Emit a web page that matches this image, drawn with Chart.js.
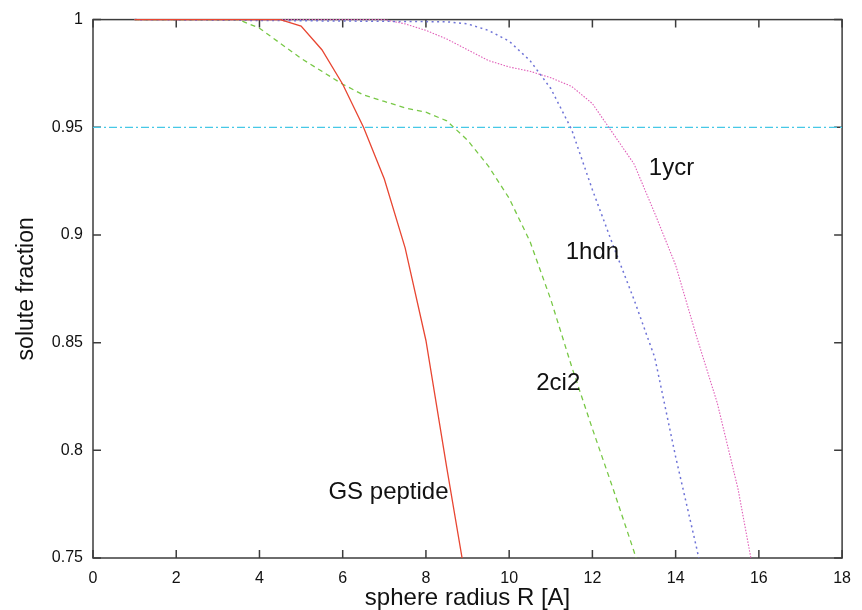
<!DOCTYPE html>
<html>
<head>
<meta charset="utf-8">
<script src="https://cdn.jsdelivr.net/npm/chart.js@4.4.0/dist/chart.umd.min.js"></script>
<style>
  html, body { margin: 0; padding: 0; background: #fff; }
  #wrap { width: 862px; height: 610px; }
</style>
</head>
<body>
<div id="wrap"><canvas id="solute_chart" width="862" height="610"></canvas></div>
<script>
// sphere radius R [A] and solute fraction, one pair of arrays per structure
const gsRadius = [1, 4.5, 5, 5.5, 6, 6.5, 7, 7.5, 8, 8.5, 9];
const gsFraction = [1, 1, 0.997, 0.986, 0.970, 0.950, 0.926, 0.894, 0.851, 0.792, 0.735];

const ci2Radius = [1, 3.5, 4, 4.5, 5, 5.5, 6, 6.5, 7, 7.5, 8, 8.5, 9, 9.5, 10, 10.5, 11, 11.5, 12, 12.5, 13, 13.5];
const ci2Fraction = [1, 1, 0.996, 0.989, 0.982, 0.976, 0.970, 0.965, 0.962, 0.959, 0.957, 0.953, 0.944, 0.932, 0.917, 0.897, 0.870, 0.839, 0.810, 0.782, 0.753, 0.72];

const hdnRadius = [1, 8.5, 9, 9.5, 10, 10.5, 11, 11.5, 12, 12.5, 13, 13.5, 14, 14.5, 15];
const hdnFraction = [1, 0.999, 0.998, 0.995, 0.990, 0.981, 0.968, 0.949, 0.921, 0.895, 0.870, 0.843, 0.797, 0.755, 0.71];

const ycrRadius = [1, 7, 7.5, 8, 8.5, 9, 9.5, 10, 10.5, 11, 11.5, 12, 12.5, 13, 13.5, 14, 14.5, 15, 15.5, 16];
const ycrFraction = [1, 1, 0.998, 0.995, 0.991, 0.986, 0.981, 0.978, 0.976, 0.973, 0.969, 0.961, 0.947, 0.933, 0.910, 0.886, 0.853, 0.822, 0.782, 0.73];

// 95% threshold line
const thresholdRadius = [0, 18];
const thresholdFraction = [0.95, 0.95];

const seriesNames = ['GS peptide', '2ci2', '1hdn', '1ycr'];

function toPoints(xs, ys) {
  return xs.map((v, i) => ({ x: v, y: ys[i] }));
}

Chart.defaults.font.family = "'Liberation Sans', Arial, Helvetica, sans-serif";
Chart.defaults.color = '#111';

// text next to each curve, in data coordinates
const curveLabels = [
  { text: 'GS peptide', x: 7.1, y: 0.7806 },
  { text: '2ci2', x: 11.18, y: 0.831 },
  { text: '1hdn', x: 12.0, y: 0.892 },
  { text: '1ycr', x: 13.9, y: 0.931 }
];

const framePlugin = {
  id: 'frame',
  beforeDatasetsDraw(chart) {
    const { ctx, chartArea: a, scales: { x, y } } = chart;
    ctx.save();
    ctx.strokeStyle = '#3c3c3c';
    ctx.lineWidth = 1.5;
    ctx.strokeRect(a.left, a.top, a.right - a.left, a.bottom - a.top);
    ctx.beginPath();
    x.ticks.forEach(t => {
      const px = x.getPixelForValue(t.value);
      ctx.moveTo(px, a.bottom); ctx.lineTo(px, a.bottom - 8);
      ctx.moveTo(px, a.top); ctx.lineTo(px, a.top + 8);
    });
    y.ticks.forEach(t => {
      const py = y.getPixelForValue(t.value);
      ctx.moveTo(a.left, py); ctx.lineTo(a.left + 8, py);
      ctx.moveTo(a.right, py); ctx.lineTo(a.right - 8, py);
    });
    ctx.stroke();
    ctx.restore();
  }
};

const labelPlugin = {
  id: 'curveLabels',
  afterDatasetsDraw(chart) {
    const { ctx, scales: { x, y } } = chart;
    ctx.save();
    ctx.font = "24px 'Liberation Sans', Arial, sans-serif";
    ctx.fillStyle = '#111';
    ctx.textAlign = 'center';
    ctx.textBaseline = 'middle';
    curveLabels.forEach(l => {
      ctx.fillText(l.text, x.getPixelForValue(l.x), y.getPixelForValue(l.y));
    });
    ctx.restore();
  }
};

const lineClip = { left: 0, top: 3, right: 0, bottom: 0 };

const ctx = document.getElementById('solute_chart').getContext('2d');
const myChart = new Chart(ctx, {
  type: 'line',
  data: {
    datasets: [
      {
        label: seriesNames[0],
        data: toPoints(gsRadius, gsFraction),
        borderColor: 'rgba(232, 70, 50, 1)',
        borderWidth: 1.3,
        clip: lineClip
      },
      {
        label: seriesNames[1],
        data: toPoints(ci2Radius, ci2Fraction),
        borderColor: 'rgba(120, 200, 70, 1)',
        borderWidth: 1.3,
        borderDash: [5, 4],
        clip: lineClip
      },
      {
        label: seriesNames[2],
        data: toPoints(hdnRadius, hdnFraction),
        borderColor: 'rgba(110, 115, 215, 1)',
        borderWidth: 1.5,
        borderDash: [2, 3.5],
        clip: lineClip
      },
      {
        label: seriesNames[3],
        data: toPoints(ycrRadius, ycrFraction),
        borderColor: 'rgba(225, 95, 185, 1)',
        borderWidth: 1.1,
        borderDash: [1.5, 1.5],
        clip: lineClip
      },
      {
        label: '0.95',
        data: toPoints(thresholdRadius, thresholdFraction),
        borderColor: 'rgba(70, 200, 230, 1)',
        borderWidth: 1.2,
        borderDash: [8, 3, 2, 3]
      }
    ]
  },
  options: {
    responsive: false,
    devicePixelRatio: 1,
    animation: false,
    layout: { padding: { left: 0, top: 19, right: 9, bottom: 0 } },
    elements: { point: { radius: 0 }, line: { tension: 0 } },
    plugins: {
      legend: { display: false },
      tooltip: { enabled: false }
    },
    scales: {
      x: {
        type: 'linear',
        min: 0,
        max: 18,
        grid: { display: false, drawTicks: false },
        border: { display: false },
        ticks: { stepSize: 2, padding: 11, font: { size: 16 }, color: '#111' },
        title: {
          display: true,
          text: 'sphere radius R [A]',
          font: { size: 24 },
          color: '#111',
          padding: { top: 0, bottom: -3 }
        },
        afterFit(scale) { scale.height = 52; }
      },
      y: {
        type: 'linear',
        min: 0.75,
        max: 1,
        grid: { display: false, drawTicks: false },
        border: { display: false },
        ticks: {
          stepSize: 0.05,
          padding: 10,
          font: { size: 16 },
          color: '#111',
          callback: v => String(+v.toFixed(2))
        },
        title: {
          display: true,
          text: 'solute fraction',
          font: { size: 23 },
          color: '#111',
          padding: { top: 13, bottom: 0 }
        },
        afterFit(scale) { scale.width = 93; }
      }
    }
  },
  plugins: [framePlugin, labelPlugin]
});
</script>
</body>
</html>
